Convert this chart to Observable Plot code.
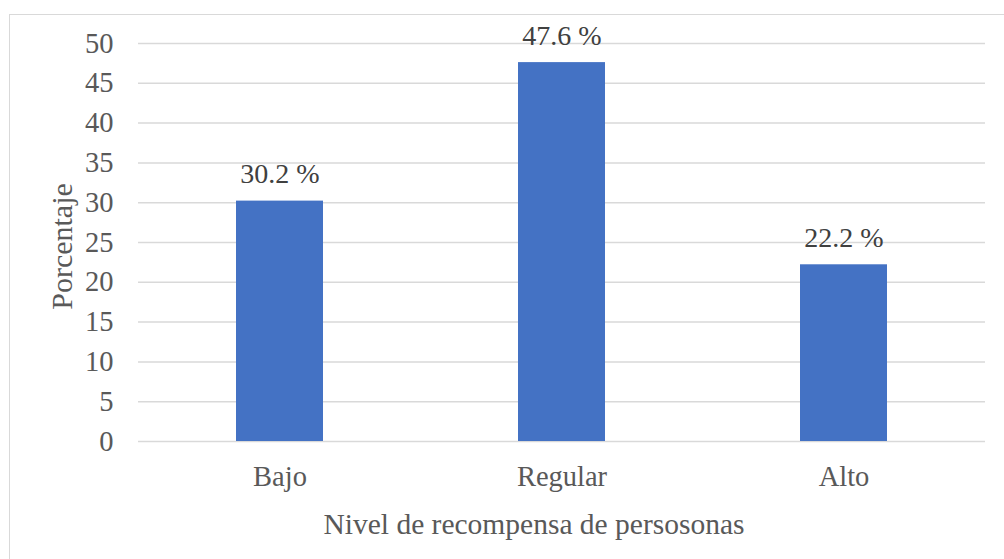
<!DOCTYPE html>
<html>
<head>
<meta charset="utf-8">
<script src="https://cdn.jsdelivr.net/npm/d3@7"></script>
<script src="https://cdn.jsdelivr.net/npm/@observablehq/plot@0.6"></script>
<style>
  html, body { margin: 0; padding: 0; background: #fff; overflow: hidden; }
  #wrap { position: relative; width: 1004px; height: 559px; }
  #frame { position: absolute; left: 9px; top: 14px; width: 1010px; height: 560px; border: 1.5px solid #d9d9d9; box-sizing: border-box; pointer-events: none; }
  #chart { position: absolute; left: 0; top: 0; }
  #chart svg, #chart svg text, #chart svg g { font-family: "Liberation Serif", serif !important; }
</style>
</head>
<body>
<div id="wrap"><div id="frame"></div><div id="chart"></div></div>
<script>
const categories = ["Bajo", "Regular", "Alto"];
const values = [30.2, 47.6, 22.2];
const labels = ["30.2 %", "47.6 %", "22.2 %"];
const yTicks = [0, 5, 10, 15, 20, 25, 30, 35, 40, 45, 50];
const xTitle = "Nivel de recompensa de persosonas";
const yTitle = "Porcentaje";

const data = categories.map((c, i) => ({cat: c, val: values[i], label: labels[i]}));
const ff = "Liberation Serif";
const fs = 28.5;

const chart = Plot.plot({
  width: 1004,
  height: 559,
  marginLeft: 138,
  marginRight: 19,
  marginTop: 43,
  marginBottom: 118,
  style: {fontFamily: ff, fontSize: fs + "px", color: "#595959", background: "transparent", overflow: "visible"},
  x: {domain: categories, paddingInner: 0.69, paddingOuter: 0.345, label: null},
  y: {domain: [0, 50], label: null},
  marks: [
    Plot.gridY(yTicks, {stroke: "#d9d9d9", strokeOpacity: 1, strokeWidth: 1.5}),
    Plot.barY(data, {x: "cat", y: "val", fill: "#4472c4"}),
    Plot.axisY(yTicks, {tickSize: 0, tickPadding: 25, fontSize: fs, fontFamily: ff, fill: "#595959", label: null}),
    Plot.axisX({tickSize: 0, tickPadding: 24, fontSize: fs, fontFamily: ff, fill: "#595959", label: null}),
    Plot.text(data, {x: "cat", y: "val", text: "label", dy: -18, lineAnchor: "bottom", fontSize: 28, fontFamily: ff, fill: "#404040"}),
    Plot.text([xTitle], {frameAnchor: "bottom", textAnchor: "middle", dx: -28, dy: 92, lineAnchor: "bottom", fontSize: 29.5, fontFamily: ff, fill: "#595959"}),
    Plot.text([yTitle], {frameAnchor: "left", textAnchor: "middle", dx: -76, dy: 4, rotate: -90, fontSize: 30, fontFamily: ff, fill: "#595959"})
  ]
});
document.getElementById("chart").appendChild(chart);
</script>
</body>
</html>
